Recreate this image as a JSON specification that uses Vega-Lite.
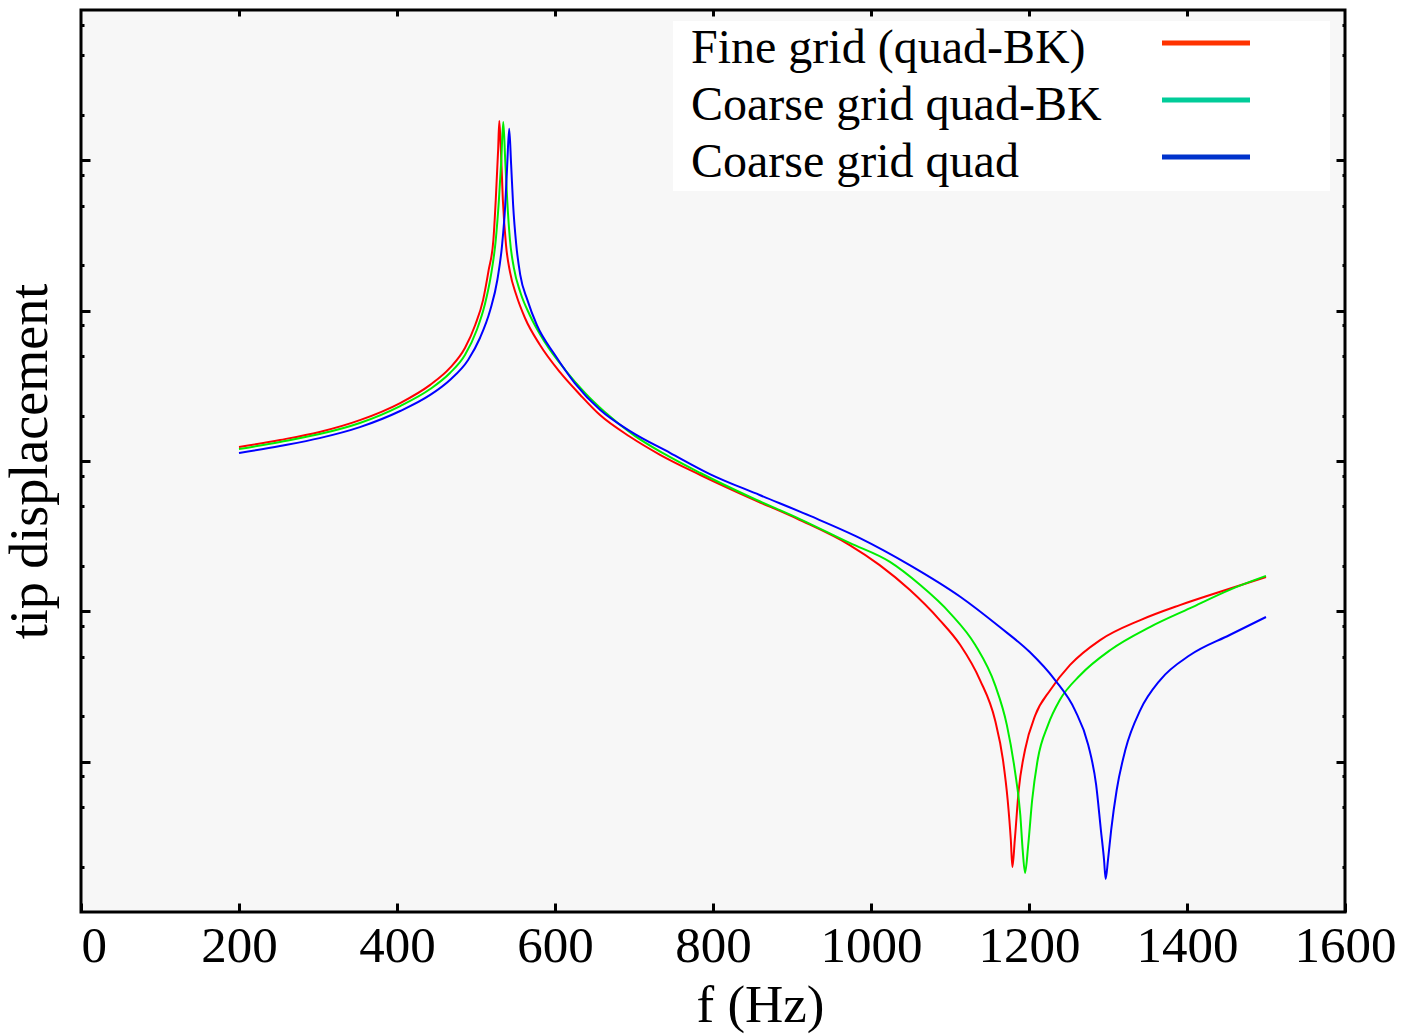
{
  "$schema": "https://vega.github.io/schema/vega-lite/v6.json",
  "width": 1264,
  "height": 902,
  "autosize": {"type": "none"},
  "padding": {"left": 81, "top": 10, "right": 65, "bottom": 123},
  "background": "white",
  "config": {
    "font": "Liberation Serif",
    "view": {"stroke": "black", "strokeWidth": 3, "fill": "#f7f7f7"}
  },
  "datasets": {
    "pts": [
      {"s": "Fine grid (quad-BK)", "f": 200, "v": 1.24e-3},
      {"s": "Fine grid (quad-BK)", "f": 252, "v": 1.38e-3},
      {"s": "Fine grid (quad-BK)", "f": 302, "v": 1.56e-3},
      {"s": "Fine grid (quad-BK)", "f": 353, "v": 1.87e-3},
      {"s": "Fine grid (quad-BK)", "f": 404, "v": 2.43e-3},
      {"s": "Fine grid (quad-BK)", "f": 442, "v": 3.21e-3},
      {"s": "Fine grid (quad-BK)", "f": 467, "v": 4.16e-3},
      {"s": "Fine grid (quad-BK)", "f": 486, "v": 5.65e-3},
      {"s": "Fine grid (quad-BK)", "f": 499, "v": 8.03e-3},
      {"s": "Fine grid (quad-BK)", "f": 509, "v": 1.18e-2},
      {"s": "Fine grid (quad-BK)", "f": 516, "v": 1.86e-2},
      {"s": "Fine grid (quad-BK)", "f": 522, "v": 2.95e-2},
      {"s": "Fine grid (quad-BK)", "f": 525, "v": 5.45e-2},
      {"s": "Fine grid (quad-BK)", "f": 528, "v": 1.17e-1},
      {"s": "Fine grid (quad-BK)", "f": 529.5, "v": 1.83e-1},
      {"s": "Fine grid (quad-BK)", "f": 531.5, "v": 1.17e-1},
      {"s": "Fine grid (quad-BK)", "f": 534, "v": 5.45e-2},
      {"s": "Fine grid (quad-BK)", "f": 538, "v": 2.73e-2},
      {"s": "Fine grid (quad-BK)", "f": 543, "v": 1.81e-2},
      {"s": "Fine grid (quad-BK)", "f": 551, "v": 1.27e-2},
      {"s": "Fine grid (quad-BK)", "f": 562, "v": 8.94e-3},
      {"s": "Fine grid (quad-BK)", "f": 581, "v": 5.91e-3},
      {"s": "Fine grid (quad-BK)", "f": 606, "v": 3.91e-3},
      {"s": "Fine grid (quad-BK)", "f": 632, "v": 2.75e-3},
      {"s": "Fine grid (quad-BK)", "f": 657, "v": 2.02e-3},
      {"s": "Fine grid (quad-BK)", "f": 695, "v": 1.45e-3},
      {"s": "Fine grid (quad-BK)", "f": 733, "v": 1.10e-3},
      {"s": "Fine grid (quad-BK)", "f": 784, "v": 8.07e-4},
      {"s": "Fine grid (quad-BK)", "f": 847, "v": 5.67e-4},
      {"s": "Fine grid (quad-BK)", "f": 910, "v": 4.05e-4},
      {"s": "Fine grid (quad-BK)", "f": 973, "v": 2.76e-4},
      {"s": "Fine grid (quad-BK)", "f": 1011, "v": 2.03e-4},
      {"s": "Fine grid (quad-BK)", "f": 1049, "v": 1.39e-4},
      {"s": "Fine grid (quad-BK)", "f": 1087, "v": 8.75e-5},
      {"s": "Fine grid (quad-BK)", "f": 1113, "v": 5.97e-5},
      {"s": "Fine grid (quad-BK)", "f": 1138, "v": 3.49e-5},
      {"s": "Fine grid (quad-BK)", "f": 1157, "v": 1.89e-5},
      {"s": "Fine grid (quad-BK)", "f": 1167, "v": 1.03e-5},
      {"s": "Fine grid (quad-BK)", "f": 1173, "v": 5.56e-6},
      {"s": "Fine grid (quad-BK)", "f": 1177, "v": 3.01e-6},
      {"s": "Fine grid (quad-BK)", "f": 1179, "v": 1.99e-6},
      {"s": "Fine grid (quad-BK)", "f": 1182, "v": 3.01e-6},
      {"s": "Fine grid (quad-BK)", "f": 1187, "v": 6.48e-6},
      {"s": "Fine grid (quad-BK)", "f": 1195, "v": 1.20e-5},
      {"s": "Fine grid (quad-BK)", "f": 1208, "v": 2.04e-5},
      {"s": "Fine grid (quad-BK)", "f": 1227, "v": 3.00e-5},
      {"s": "Fine grid (quad-BK)", "f": 1252, "v": 4.40e-5},
      {"s": "Fine grid (quad-BK)", "f": 1290, "v": 6.44e-5},
      {"s": "Fine grid (quad-BK)", "f": 1341, "v": 8.75e-5},
      {"s": "Fine grid (quad-BK)", "f": 1391, "v": 1.10e-4},
      {"s": "Fine grid (quad-BK)", "f": 1442, "v": 1.35e-4},
      {"s": "Fine grid (quad-BK)", "f": 1500, "v": 1.69e-4},
      {"s": "Coarse grid quad-BK", "f": 200, "v": 1.20e-3},
      {"s": "Coarse grid quad-BK", "f": 252, "v": 1.34e-3},
      {"s": "Coarse grid quad-BK", "f": 302, "v": 1.51e-3},
      {"s": "Coarse grid quad-BK", "f": 353, "v": 1.79e-3},
      {"s": "Coarse grid quad-BK", "f": 404, "v": 2.32e-3},
      {"s": "Coarse grid quad-BK", "f": 442, "v": 3.01e-3},
      {"s": "Coarse grid quad-BK", "f": 467, "v": 3.85e-3},
      {"s": "Coarse grid quad-BK", "f": 486, "v": 5.07e-3},
      {"s": "Coarse grid quad-BK", "f": 501, "v": 7.44e-3},
      {"s": "Coarse grid quad-BK", "f": 511, "v": 1.09e-2},
      {"s": "Coarse grid quad-BK", "f": 519, "v": 1.73e-2},
      {"s": "Coarse grid quad-BK", "f": 525, "v": 2.95e-2},
      {"s": "Coarse grid quad-BK", "f": 529, "v": 5.45e-2},
      {"s": "Coarse grid quad-BK", "f": 532, "v": 1.0e-1},
      {"s": "Coarse grid quad-BK", "f": 534.5, "v": 1.80e-1},
      {"s": "Coarse grid quad-BK", "f": 537, "v": 1.0e-1},
      {"s": "Coarse grid quad-BK", "f": 539.5, "v": 5.45e-2},
      {"s": "Coarse grid quad-BK", "f": 543, "v": 2.95e-2},
      {"s": "Coarse grid quad-BK", "f": 548, "v": 1.92e-2},
      {"s": "Coarse grid quad-BK", "f": 556, "v": 1.33e-2},
      {"s": "Coarse grid quad-BK", "f": 568, "v": 9.36e-3},
      {"s": "Coarse grid quad-BK", "f": 587, "v": 6.19e-3},
      {"s": "Coarse grid quad-BK", "f": 613, "v": 4.03e-3},
      {"s": "Coarse grid quad-BK", "f": 638, "v": 2.84e-3},
      {"s": "Coarse grid quad-BK", "f": 663, "v": 2.12e-3},
      {"s": "Coarse grid quad-BK", "f": 701, "v": 1.47e-3},
      {"s": "Coarse grid quad-BK", "f": 739, "v": 1.11e-3},
      {"s": "Coarse grid quad-BK", "f": 784, "v": 8.32e-4},
      {"s": "Coarse grid quad-BK", "f": 847, "v": 5.76e-4},
      {"s": "Coarse grid quad-BK", "f": 910, "v": 4.11e-4},
      {"s": "Coarse grid quad-BK", "f": 973, "v": 2.85e-4},
      {"s": "Coarse grid quad-BK", "f": 1024, "v": 2.13e-4},
      {"s": "Coarse grid quad-BK", "f": 1062, "v": 1.50e-4},
      {"s": "Coarse grid quad-BK", "f": 1100, "v": 9.74e-5},
      {"s": "Coarse grid quad-BK", "f": 1132, "v": 5.97e-5},
      {"s": "Coarse grid quad-BK", "f": 1157, "v": 3.24e-5},
      {"s": "Coarse grid quad-BK", "f": 1172, "v": 1.75e-5},
      {"s": "Coarse grid quad-BK", "f": 1182, "v": 8.81e-6},
      {"s": "Coarse grid quad-BK", "f": 1189, "v": 4.42e-6},
      {"s": "Coarse grid quad-BK", "f": 1192, "v": 2.59e-6},
      {"s": "Coarse grid quad-BK", "f": 1195, "v": 1.82e-6},
      {"s": "Coarse grid quad-BK", "f": 1199, "v": 2.79e-6},
      {"s": "Coarse grid quad-BK", "f": 1204, "v": 5.56e-6},
      {"s": "Coarse grid quad-BK", "f": 1211, "v": 1.03e-5},
      {"s": "Coarse grid quad-BK", "f": 1224, "v": 1.75e-5},
      {"s": "Coarse grid quad-BK", "f": 1239, "v": 2.57e-5},
      {"s": "Coarse grid quad-BK", "f": 1265, "v": 3.77e-5},
      {"s": "Coarse grid quad-BK", "f": 1303, "v": 5.53e-5},
      {"s": "Coarse grid quad-BK", "f": 1353, "v": 7.86e-5},
      {"s": "Coarse grid quad-BK", "f": 1404, "v": 1.05e-4},
      {"s": "Coarse grid quad-BK", "f": 1454, "v": 1.39e-4},
      {"s": "Coarse grid quad-BK", "f": 1500, "v": 1.72e-4},
      {"s": "Coarse grid quad", "f": 200, "v": 1.13e-3},
      {"s": "Coarse grid quad", "f": 252, "v": 1.26e-3},
      {"s": "Coarse grid quad", "f": 302, "v": 1.42e-3},
      {"s": "Coarse grid quad", "f": 353, "v": 1.68e-3},
      {"s": "Coarse grid quad", "f": 404, "v": 2.15e-3},
      {"s": "Coarse grid quad", "f": 442, "v": 2.75e-3},
      {"s": "Coarse grid quad", "f": 467, "v": 3.46e-3},
      {"s": "Coarse grid quad", "f": 490, "v": 4.70e-3},
      {"s": "Coarse grid quad", "f": 505, "v": 6.58e-3},
      {"s": "Coarse grid quad", "f": 518, "v": 1.01e-2},
      {"s": "Coarse grid quad", "f": 527, "v": 1.60e-2},
      {"s": "Coarse grid quad", "f": 533, "v": 2.73e-2},
      {"s": "Coarse grid quad", "f": 537, "v": 5.04e-2},
      {"s": "Coarse grid quad", "f": 539.5, "v": 9.30e-2},
      {"s": "Coarse grid quad", "f": 542, "v": 1.62e-1},
      {"s": "Coarse grid quad", "f": 544.5, "v": 9.30e-2},
      {"s": "Coarse grid quad", "f": 547, "v": 5.04e-2},
      {"s": "Coarse grid quad", "f": 551, "v": 2.73e-2},
      {"s": "Coarse grid quad", "f": 556, "v": 1.73e-2},
      {"s": "Coarse grid quad", "f": 565, "v": 1.18e-2},
      {"s": "Coarse grid quad", "f": 577, "v": 8.03e-3},
      {"s": "Coarse grid quad", "f": 600, "v": 5.07e-3},
      {"s": "Coarse grid quad", "f": 625, "v": 3.30e-3},
      {"s": "Coarse grid quad", "f": 657, "v": 2.19e-3},
      {"s": "Coarse grid quad", "f": 695, "v": 1.58e-3},
      {"s": "Coarse grid quad", "f": 746, "v": 1.13e-3},
      {"s": "Coarse grid quad", "f": 796, "v": 8.19e-4},
      {"s": "Coarse grid quad", "f": 859, "v": 5.94e-4},
      {"s": "Coarse grid quad", "f": 923, "v": 4.31e-4},
      {"s": "Coarse grid quad", "f": 986, "v": 3.07e-4},
      {"s": "Coarse grid quad", "f": 1049, "v": 2.03e-4},
      {"s": "Coarse grid quad", "f": 1113, "v": 1.25e-4},
      {"s": "Coarse grid quad", "f": 1163, "v": 7.86e-5},
      {"s": "Coarse grid quad", "f": 1201, "v": 5.36e-5},
      {"s": "Coarse grid quad", "f": 1233, "v": 3.49e-5},
      {"s": "Coarse grid quad", "f": 1258, "v": 2.21e-5},
      {"s": "Coarse grid quad", "f": 1275, "v": 1.29e-5},
      {"s": "Coarse grid quad", "f": 1285, "v": 7.00e-6},
      {"s": "Coarse grid quad", "f": 1291, "v": 3.51e-6},
      {"s": "Coarse grid quad", "f": 1295, "v": 2.22e-6},
      {"s": "Coarse grid quad", "f": 1297, "v": 1.66e-6},
      {"s": "Coarse grid quad", "f": 1300, "v": 2.22e-6},
      {"s": "Coarse grid quad", "f": 1304, "v": 3.51e-6},
      {"s": "Coarse grid quad", "f": 1311, "v": 6.48e-6},
      {"s": "Coarse grid quad", "f": 1322, "v": 1.20e-5},
      {"s": "Coarse grid quad", "f": 1341, "v": 2.21e-5},
      {"s": "Coarse grid quad", "f": 1366, "v": 3.49e-5},
      {"s": "Coarse grid quad", "f": 1404, "v": 5.12e-5},
      {"s": "Coarse grid quad", "f": 1454, "v": 6.96e-5},
      {"s": "Coarse grid quad", "f": 1500, "v": 9.17e-5}
    ]
  },
  "data": {"name": "pts"},
  "layer": [
    {
      "mark": {"type": "line", "strokeWidth": 2, "opacity": 0, "interpolate": "monotone"},
      "encoding": {
        "x": {
          "field": "f", "type": "quantitative",
          "scale": {"domain": [0, 1600], "nice": false, "zero": false},
          "axis": {
            "orient": "bottom",
            "values": [0, 200, 400, 600, 800, 1000, 1200, 1400, 1600],
            "format": "d",
            "domain": false, "grid": false,
            "tickSize": -9, "tickWidth": 3, "tickColor": "black",
            "labelFontSize": 51, "labelColor": "black", "labelPadding": 18,
            "labelOverlap": false, "labelFlush": false,
            "labelAlign": {"condition": {"test": "datum.value == 0", "value": "left"}, "value": "center"},
            "title": "f (Hz)", "titleFontSize": 53, "titleFontWeight": "normal",
            "titleColor": "black", "titlePadding": 8, "titleX": 679
          }
        },
        "y": {
          "field": "v", "type": "quantitative",
          "scale": {"type": "log", "domain": [1e-6, 1], "nice": false},
          "axis": {
            "orient": "left",
            "values": [2e-6, 5e-6, 8e-6, 1e-5, 2e-5, 5e-5, 8e-5, 1e-4, 2e-4, 5e-4, 8e-4, 1e-3, 2e-3, 5e-3, 8e-3, 1e-2, 2e-2, 5e-2, 8e-2, 1e-1, 2e-1, 5e-1, 8e-1],
            "domain": false, "grid": false, "labels": false,
            "tickSize": {"condition": {"test": "abs(log(datum.value)/LN10 - round(log(datum.value)/LN10)) < 0.01", "value": -9}, "value": -3},
            "tickWidth": 3, "tickColor": "black",
            "title": "tip displacement", "titleFontSize": 54, "titleFontWeight": "normal",
            "titleColor": "black", "titlePadding": 22
          }
        },
        "color": {
          "field": "s", "type": "nominal",
          "scale": {
            "domain": ["Fine grid (quad-BK)", "Coarse grid quad-BK", "Coarse grid quad"],
            "range": ["#ff3300", "#00cc99", "#0033cc"]
          },
          "legend": {
            "orient": "none", "legendX": 592, "legendY": 11,
            "title": null, "fillColor": "white", "padding": 4,
            "rowPadding": 9, "labelFontSize": 48, "labelColor": "black",
            "labelLimit": 0, "labelOffset": -34,
            "symbolSize": 100, "symbolStrokeWidth": 5, "symbolOpacity": 1,
            "symbolFillColor": "transparent",
            "symbolType": "M92.2,-1.2L109.8,-1.2M123,0"
          }
        }
      }
    },
    {
      "mark": {"type": "line", "strokeWidth": 2, "interpolate": "monotone"},
      "encoding": {
        "x": {
          "field": "f", "type": "quantitative",
          "axis": {
            "orient": "top",
            "values": [200, 400, 600, 800, 1000, 1200, 1400],
            "domain": false, "grid": false, "labels": false,
            "tickSize": -6, "tickWidth": 3, "tickColor": "black", "title": null
          }
        },
        "y": {
          "field": "v", "type": "quantitative",
          "axis": {
            "orient": "right",
            "values": [2e-6, 5e-6, 8e-6, 1e-5, 2e-5, 5e-5, 8e-5, 1e-4, 2e-4, 5e-4, 8e-4, 1e-3, 2e-3, 5e-3, 8e-3, 1e-2, 2e-2, 5e-2, 8e-2, 1e-1, 2e-1, 5e-1, 8e-1],
            "domain": false, "grid": false, "labels": false,
            "tickSize": {"condition": {"test": "abs(log(datum.value)/LN10 - round(log(datum.value)/LN10)) < 0.01", "value": -9}, "value": -3},
            "tickWidth": 3, "tickColor": "black", "title": null
          }
        },
        "color": {
          "field": "s", "type": "nominal",
          "scale": {
            "domain": ["Fine grid (quad-BK)", "Coarse grid quad-BK", "Coarse grid quad"],
            "range": ["#ff0000", "#00ee00", "#0000ff"]
          },
          "legend": null
        }
      }
    }
  ],
  "resolve": {
    "scale": {"color": "independent"},
    "axis": {"x": "independent", "y": "independent"}
  }
}
